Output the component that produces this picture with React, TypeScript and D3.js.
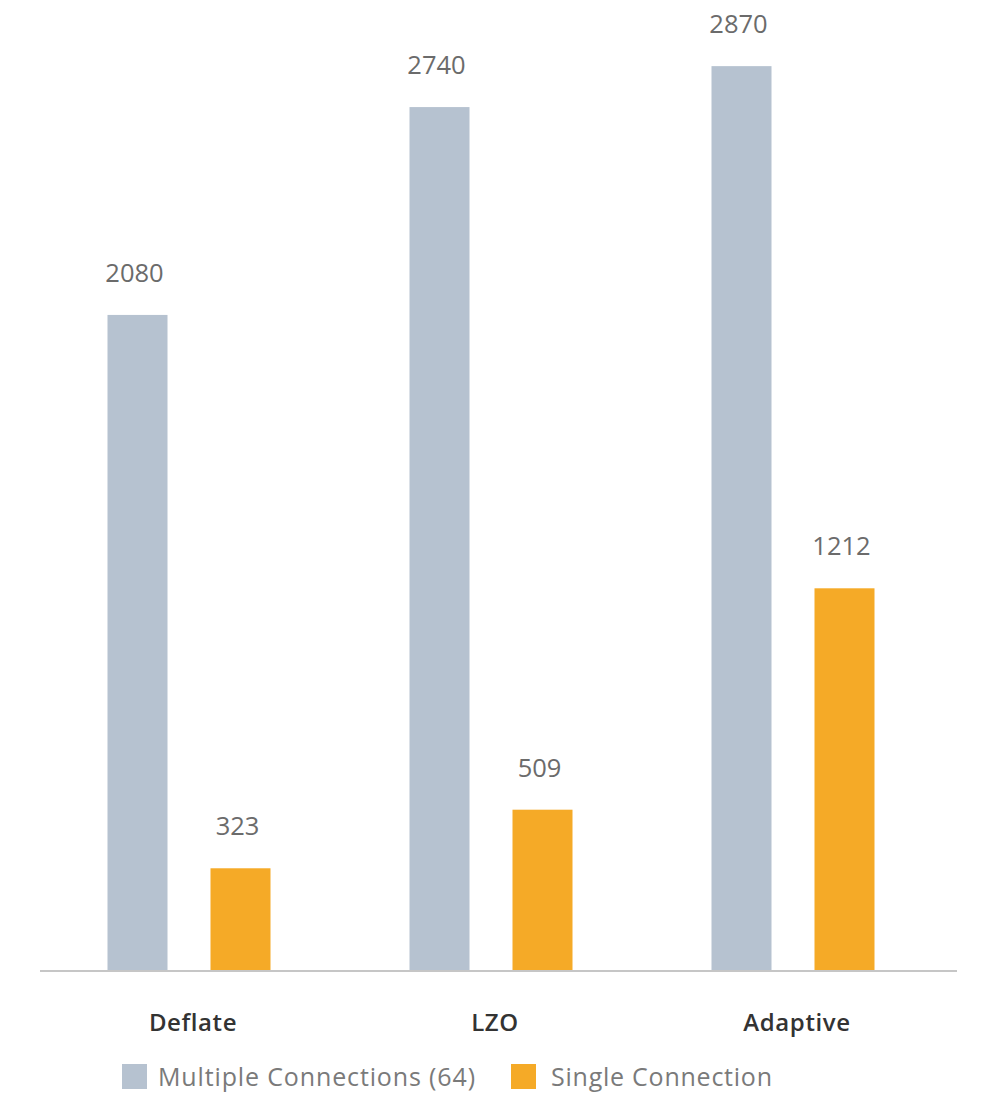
import * as d3 from 'd3'

const categories = ['Deflate', 'LZO', 'Adaptive']
const seriesNames = ['Multiple Connections (64)', 'Single Connection']
const multipleValues = [2080, 2740, 2870]
const singleValues = [323, 509, 1212]
const seriesColors = ['#b6c2d0', '#f5aa27']

const width = 1000
const height = 1097
const baseline = 970
const font = '"Open Sans", "Noto Sans", sans-serif'

export default function App() {
    const x0 = d3.scaleBand().domain(categories).range([38, 944]).padding(0)
    const x1 = d3.scaleBand().domain(seriesNames).range([-81.5, 81.5]).paddingInner(0.4175).paddingOuter(0)
    const y = d3.scaleLinear().domain([0, 3080]).range([baseline, 0])

    const seriesValues = [multipleValues, singleValues]

    return (
        <svg width={width} height={height} style={{ position: 'absolute', left: 0, top: 0, background: '#fff' }}>
            {/* bars + value labels */}
            {seriesNames.map((s, si) =>
                categories.map((c, ci) => {
                    const v = seriesValues[si][ci]
                    const cx = (x0(c) || 0) + x0.bandwidth() / 2
                    const bx = cx + (x1(s) || 0)
                    return (
                        <g key={s + c}>
                            <rect x={bx} y={y(v)} width={x1.bandwidth()} height={baseline - y(v)} fill={seriesColors[si]} />
                            <text x={bx + x1.bandwidth() / 2 - 3} y={y(v) - 33} textAnchor="middle"
                                fontFamily={font} fontSize={25.5} fill="#6b6b6b">{v}</text>
                        </g>
                    )
                })
            )}
            {/* axis line */}
            <line x1={40} x2={957} y1={baseline + 1} y2={baseline + 1} stroke="#c6c6c6" strokeWidth={2} />
            {/* category labels */}
            {categories.map(c => (
                <text key={c} x={(x0(c) || 0) + x0.bandwidth() / 2 + 4} y={1031} textAnchor="middle"
                    fontFamily={font} fontSize={24} fontWeight={600} letterSpacing={0.6} fill="#333">{c}</text>
            ))}
            {/* legend */}
            <g>
                <rect x={122} y={1064} width={25} height={25} fill={seriesColors[0]} />
                <text x={158} y={1086} fontFamily={font} fontSize={25} fill="#7a7a7a"
                    textLength={317} lengthAdjust="spacing">{seriesNames[0]}</text>
                <rect x={511} y={1064} width={25} height={25} fill={seriesColors[1]} />
                <text x={551} y={1086} fontFamily={font} fontSize={25} fill="#7a7a7a"
                    textLength={221} lengthAdjust="spacing">{seriesNames[1]}</text>
            </g>
        </svg>
    )
}
